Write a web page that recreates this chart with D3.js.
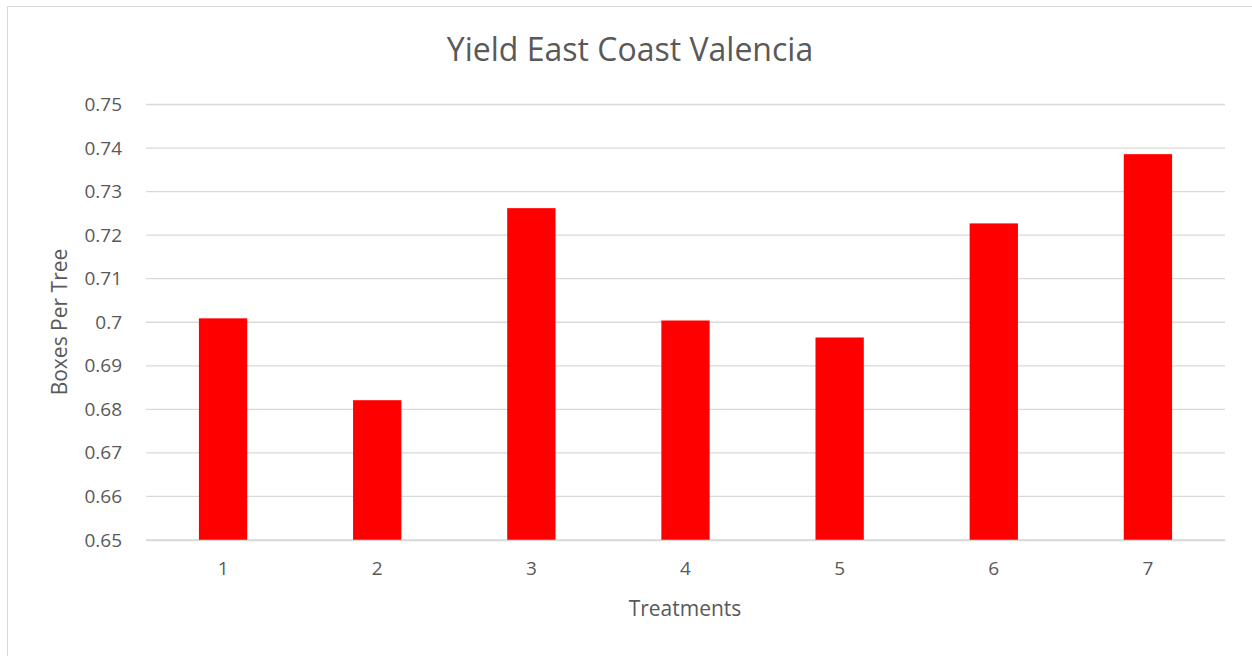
<!DOCTYPE html>
<html><head><meta charset="utf-8">
<script src="https://cdn.jsdelivr.net/npm/d3@7"></script>
<style>body{margin:0;background:#fff}svg{display:block}text{font-family:"Open Sans","Liberation Sans",sans-serif;fill:#595959}</style>
</head><body><svg id="c" width="1252" height="656"></svg>
<script>
const categories = ["1","2","3","4","5","6","7"];
const values = [0.7009, 0.6821, 0.7262, 0.7004, 0.6965, 0.7227, 0.7386];
const yTicks = [0.65,0.66,0.67,0.68,0.69,0.7,0.71,0.72,0.73,0.74,0.75];
const title = "Yield East Coast Valencia";
const xTitle = "Treatments";
const yTitle = "Boxes Per Tree";

const svg = d3.select("#c");
svg.append("rect").attr("x",7.5).attr("y",6.5).attr("width",1260).attr("height",670)
  .attr("fill","#fff").attr("stroke","#d9d9d9");

const m = {l:146, r:1225, t:104.5, b:540};
const x = d3.scaleBand().domain(categories).range([m.l,m.r]).paddingInner(0.6866).paddingOuter(0.3433);
const y = d3.scaleLinear().domain([0.65,0.75]).range([m.b,m.t]);

svg.append("g").selectAll("line").data(yTicks).join("line")
  .attr("x1",m.l).attr("x2",m.r).attr("y1",d=>y(d)).attr("y2",d=>y(d))
  .attr("stroke","#d9d9d9").attr("stroke-width",1.3);

svg.append("g").selectAll("rect").data(values).join("rect")
  .attr("x",(d,i)=>x(categories[i])).attr("width",x.bandwidth())
  .attr("y",d=>y(d)).attr("height",d=>y(0.65)-y(d)).attr("fill","#ff0000");

const ya = svg.append("g").attr("transform",`translate(${m.l},0)`)
  .call(d3.axisLeft(y).tickValues(yTicks).tickSize(0).tickPadding(24).tickFormat(d=>String(+d.toFixed(2))));
ya.select(".domain").remove();
ya.attr("font-size",19);
ya.selectAll("text").style("font-size","19px").attr("fill","#595959");

const xa = svg.append("g").attr("transform",`translate(0,${m.b})`)
  .call(d3.axisBottom(x).tickSize(0).tickPadding(22));
xa.select(".domain").attr("stroke","#d9d9d9").attr("stroke-width",1.3);
xa.attr("font-size",19);
xa.selectAll("text").style("font-size","19px").attr("fill","#595959");

svg.append("text").attr("x",630).attr("y",61).attr("text-anchor","middle").style("font-size","32px").text(title);
svg.append("text").attr("x",685).attr("y",616).attr("text-anchor","middle").style("font-size","21px").text(xTitle);
svg.append("text").attr("transform","translate(67,322) rotate(-90)").attr("text-anchor","middle").style("font-size","21px").text(yTitle);
</script></body></html>
